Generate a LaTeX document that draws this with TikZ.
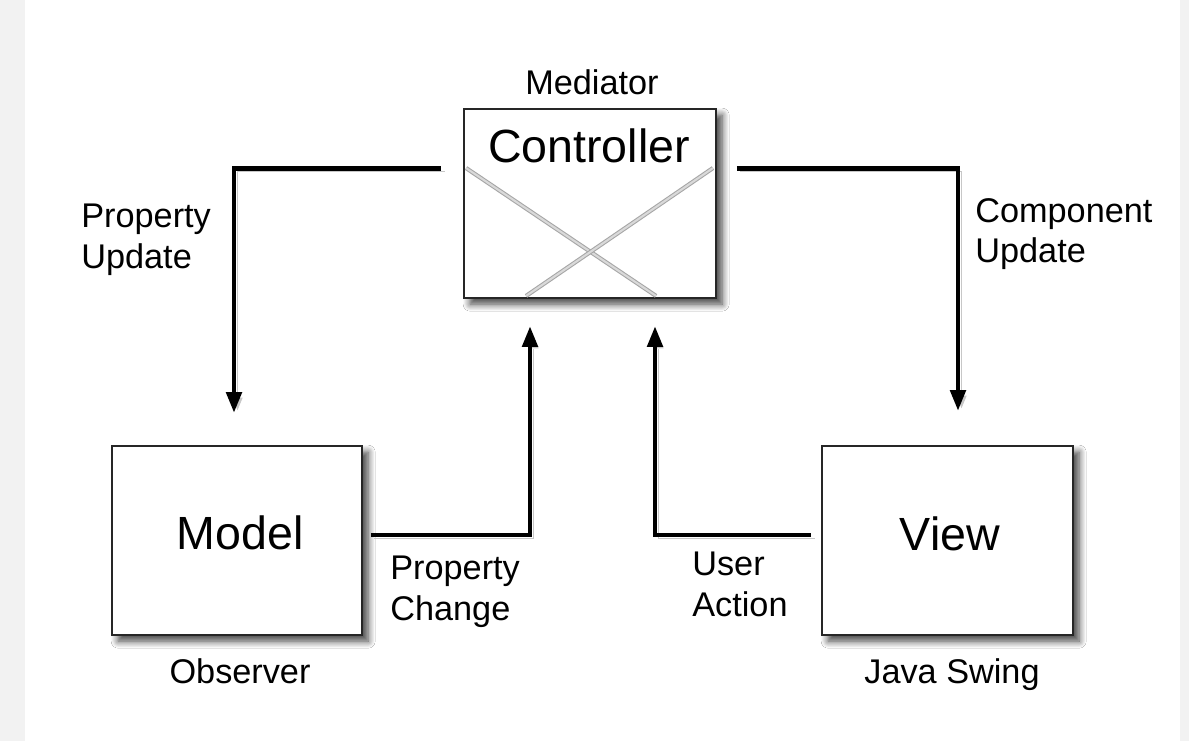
\documentclass[tikz,border=0pt]{standalone}
\usepackage{fontspec}
\setmainfont{Liberation Sans}
\usetikzlibrary{positioning,calc,arrows.meta,shadows.blur}
\definecolor{bandgray}{RGB}{242,242,242}

\begin{document}
\begin{tikzpicture}[x=0.02cm,y=-0.02cm,
	box/.style={rectangle,draw=black!85,line width=1.1pt,fill=white,minimum width=5.0cm,minimum height=3.78cm,
		blur shadow={shadow xshift=3.5pt,shadow yshift=-3.5pt,shadow blur radius=4pt,shadow blur steps=8,shadow opacity=75}},
	conn/.style={line width=2.8pt,-{Triangle[length=0.42cm,width=0.3cm]},
		preaction={draw=black!22,transform canvas={shift={(0.07cm,-0.07cm)}}}},
	cross/.style={draw=gray!70,double=gray!30,double distance=1.2pt,line width=0.6pt},
	lbl/.style={font=\fontsize{19.5}{23}\selectfont,inner sep=0pt},
	big/.style={font=\fontsize{26.5}{30}\selectfont,inner sep=0pt}]
	% page and side bands
	\fill[white] (0,0) rectangle (1189,741);
	\fill[bandgray] (0,0) rectangle (25,741);
	\fill[bandgray] (1180,0) rectangle (1189,741);
	\useasboundingbox (0,0) rectangle (1189,741);
	% boxes
	\node[box,minimum width=5.04cm] (ctrl) at (590,203.5) {};
	\node[box] (model) at (237,540.5) {};
	\node[box,minimum width=5.02cm] (view) at (947.5,540.5) {};
	\draw[cross] ($(ctrl.north west)+(3,60)$) -- ($(ctrl.south west)+(193,-3)$);
	\draw[cross] ($(ctrl.north east)+(-4,60)$) -- ($(ctrl.south west)+(63,-3)$);
	% texts
	\node[big,anchor=base] (ctrltext) at ($(ctrl.north)+(-1,54)$) {Controller};
	\node[lbl,anchor=base] (mediator) at ($(ctrl.north)+(2,-14)$) {Mediator};
	\node[big,anchor=base] (modeltext) at ($(model.center)+(3,8.5)$) {Model};
	\node[big,anchor=base] (viewtext) at ($(view.center)+(2.5,9.5)$) {View};
	\node[lbl,anchor=base] (observer) at ($(model.south)+(3,48)$) {Observer};
	\node[lbl,anchor=base] (swing) at ($(view.south)+(4.5,48)$) {Java Swing};
	\node[lbl,anchor=north west,align=left] (propupd) at (81,204) {Property\\Update};
	\node[lbl,anchor=north west,align=left] (compupd) at (975,198) {Component\\Update};
	\node[lbl,anchor=north west,align=left] (propchg) at (390,556) {Property\\Change};
	\node[lbl,anchor=north west,align=left] (useract) at (692,552) {User\\Action};
	% connectors
	\draw[conn] ($(ctrl.north west)+(-22,60)$) -| ($(model.north)+(-3,-32)$);
	\draw[conn] ($(ctrl.north east)+(20,60)$) -| ($(view.north)+(10.5,-34)$);
	\draw[conn] ($(model.east)+(8,-5.5)$) -| ($(ctrl.south)+(-60,27)$);
	\draw[conn] ($(view.west)+(-10,-5.5)$) -| ($(ctrl.south)+(65,27)$);
\end{tikzpicture}
\end{document}
